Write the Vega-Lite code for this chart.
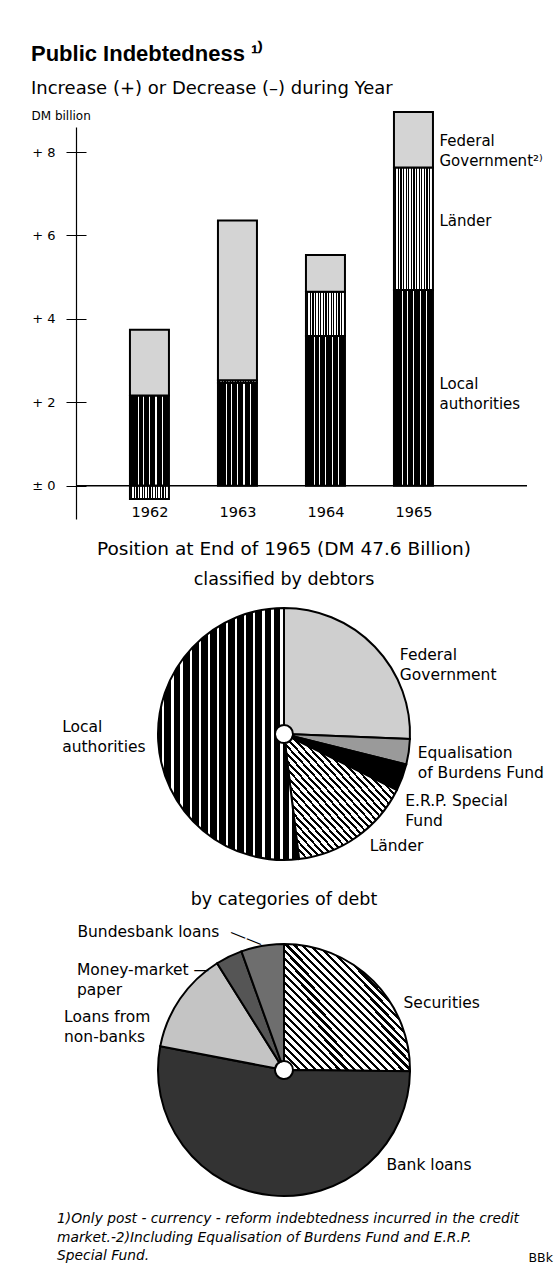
{
  "$schema": "https://vega.github.io/schema/vega-lite/v6.json",
  "background": "white",
  "padding": {"left": 31, "top": 43, "right": 2, "bottom": 2},
  "config": {
    "font": "DejaVu Sans",
    "view": {"stroke": null},
    "title": {"color": "black", "subtitleColor": "black", "fontWeight": "normal", "subtitleFontWeight": "normal", "font": "DejaVu Sans", "subtitleFont": "DejaVu Sans"},
    "text": {"color": "black", "font": "DejaVu Sans"}
  },
  "spacing": 21,
  "title": {"text": "BBk", "orient": "bottom", "anchor": "end", "fontSize": 12.5, "offset": 0, "dy": -11, "dx": 9, "frame": "bounds"},
  "vconcat": [
    {
      "width": 451,
      "height": 392,
      "title": {"text": "Public Indebtedness ¹⁾", "subtitle": "Increase (+) or Decrease (–) during Year", "anchor": "start", "frame": "bounds", "font": "Liberation Sans", "fontWeight": "bold", "fontSize": 22, "subtitleFontSize": 18, "subtitlePadding": 14, "offset": 10},
      "data": {"values": [
        {"year": 1962, "cat": "Local authorities", "value": 2.16},
        {"year": 1962, "cat": "Länder", "value": -0.32},
        {"year": 1962, "cat": "Federal Government", "value": 1.58},
        {"year": 1963, "cat": "Local authorities", "value": 2.47},
        {"year": 1963, "cat": "Länder", "value": 0.06},
        {"year": 1963, "cat": "Federal Government", "value": 3.83},
        {"year": 1964, "cat": "Local authorities", "value": 3.59},
        {"year": 1964, "cat": "Länder", "value": 1.06},
        {"year": 1964, "cat": "Federal Government", "value": 0.88},
        {"year": 1965, "cat": "Local authorities", "value": 4.69, "label": "Local\nauthorities"},
        {"year": 1965, "cat": "Länder", "value": 2.94, "label": "Länder"},
        {"year": 1965, "cat": "Federal Government", "value": 1.33, "label": "Federal\nGovernment²⁾"}
      ]},
      "layer": [
        {
          "transform": [{"window": [{"op": "row_number", "as": "idx"}]}],
          "mark": {"type": "bar", "size": 39, "stroke": "black", "strokeWidth": 2},
          "encoding": {
            "x": {"field": "year", "type": "quantitative",
              "scale": {"domain": [1961.2222, 1966.2333], "nice": false, "zero": false},
              "axis": {"values": [1962, 1963, 1964, 1965], "format": "d", "domain": false, "ticks": false, "tickSize": 0, "grid": false, "labelPadding": 0, "offset": -14, "labelFontSize": 14.5, "labelColor": "black", "labelFlush": false, "title": null}},
            "y": {"field": "value", "type": "quantitative", "stack": "zero",
              "scale": {"domain": [-0.8, 8.6], "nice": false, "zero": false},
              "axis": {"values": [0, 2, 4, 6, 8], "labelExpr": "datum.value === 0 ? '± 0' : '+ ' + datum.value", "tickSize": 10, "tickColor": "black", "tickWidth": 1, "domainColor": "black", "domainWidth": 1.2, "labelPadding": 11, "labelFontSize": 13, "labelColor": "black", "labelFlush": false, "grid": true, "gridColor": "black", "gridDash": [10, 3000], "gridOpacity": 1, "gridWidth": 1, "title": "DM billion", "titleAngle": 0, "titleX": -45, "titleY": -12, "titleAlign": "left", "titleBaseline": "middle", "titleFontSize": 12, "titleFontWeight": "normal", "titleColor": "black"}},
            "detail": {"field": "cat"},
            "order": {"field": "idx", "type": "quantitative"},
            "fill": {
              "condition": [
                {"test": "datum.cat === 'Local authorities'", "value": {"gradient": "linear", "x1": 0, "y1": 0, "x2": 1, "y2": 0, "stops": [
                  {"offset": 0, "color": "#000"},
                  {"offset": 0.195, "color": "#000"}, {"offset": 0.195, "color": "#fff"}, {"offset": 0.23, "color": "#fff"}, {"offset": 0.23, "color": "#000"},
                  {"offset": 0.325, "color": "#000"}, {"offset": 0.325, "color": "#fff"}, {"offset": 0.36, "color": "#fff"}, {"offset": 0.36, "color": "#000"},
                  {"offset": 0.485, "color": "#000"}, {"offset": 0.485, "color": "#fff"}, {"offset": 0.52, "color": "#fff"}, {"offset": 0.52, "color": "#000"},
                  {"offset": 0.655, "color": "#000"}, {"offset": 0.655, "color": "#fff"}, {"offset": 0.69, "color": "#fff"}, {"offset": 0.69, "color": "#000"},
                  {"offset": 0.815, "color": "#000"}, {"offset": 0.815, "color": "#fff"}, {"offset": 0.85, "color": "#fff"}, {"offset": 0.85, "color": "#000"},
                  {"offset": 1, "color": "#000"}
                ]}},
                {"test": "datum.cat === 'Länder'", "value": {"gradient": "linear", "x1": 0, "y1": 0, "x2": 1, "y2": 0, "stops": [
                  {"offset": 0, "color": "#fff"},
                  {"offset": 0.033, "color": "#fff"}, {"offset": 0.033, "color": "#000"}, {"offset": 0.061, "color": "#000"}, {"offset": 0.061, "color": "#fff"},
                  {"offset": 0.1, "color": "#fff"}, {"offset": 0.1, "color": "#000"}, {"offset": 0.128, "color": "#000"}, {"offset": 0.128, "color": "#fff"},
                  {"offset": 0.167, "color": "#fff"}, {"offset": 0.167, "color": "#000"}, {"offset": 0.195, "color": "#000"}, {"offset": 0.195, "color": "#fff"},
                  {"offset": 0.233, "color": "#fff"}, {"offset": 0.233, "color": "#000"}, {"offset": 0.261, "color": "#000"}, {"offset": 0.261, "color": "#fff"},
                  {"offset": 0.3, "color": "#fff"}, {"offset": 0.3, "color": "#000"}, {"offset": 0.328, "color": "#000"}, {"offset": 0.328, "color": "#fff"},
                  {"offset": 0.367, "color": "#fff"}, {"offset": 0.367, "color": "#000"}, {"offset": 0.395, "color": "#000"}, {"offset": 0.395, "color": "#fff"},
                  {"offset": 0.433, "color": "#fff"}, {"offset": 0.433, "color": "#000"}, {"offset": 0.461, "color": "#000"}, {"offset": 0.461, "color": "#fff"},
                  {"offset": 0.5, "color": "#fff"}, {"offset": 0.5, "color": "#000"}, {"offset": 0.528, "color": "#000"}, {"offset": 0.528, "color": "#fff"},
                  {"offset": 0.567, "color": "#fff"}, {"offset": 0.567, "color": "#000"}, {"offset": 0.595, "color": "#000"}, {"offset": 0.595, "color": "#fff"},
                  {"offset": 0.633, "color": "#fff"}, {"offset": 0.633, "color": "#000"}, {"offset": 0.661, "color": "#000"}, {"offset": 0.661, "color": "#fff"},
                  {"offset": 0.7, "color": "#fff"}, {"offset": 0.7, "color": "#000"}, {"offset": 0.728, "color": "#000"}, {"offset": 0.728, "color": "#fff"},
                  {"offset": 0.767, "color": "#fff"}, {"offset": 0.767, "color": "#000"}, {"offset": 0.795, "color": "#000"}, {"offset": 0.795, "color": "#fff"},
                  {"offset": 0.833, "color": "#fff"}, {"offset": 0.833, "color": "#000"}, {"offset": 0.861, "color": "#000"}, {"offset": 0.861, "color": "#fff"},
                  {"offset": 0.9, "color": "#fff"}, {"offset": 0.9, "color": "#000"}, {"offset": 0.928, "color": "#000"}, {"offset": 0.928, "color": "#fff"},
                  {"offset": 0.967, "color": "#fff"}, {"offset": 0.967, "color": "#000"}, {"offset": 0.995, "color": "#000"}, {"offset": 0.995, "color": "#fff"},
                  {"offset": 1, "color": "#fff"}
                ]}}
              ],
              "value": "#d4d4d4"
            }
          }
        },
        {
          "data": {"values": [{}]},
          "mark": {"type": "rule", "stroke": "black", "strokeWidth": 1.5},
          "encoding": {"y": {"datum": 0, "type": "quantitative"}}
        },
        {
          "transform": [{"window": [{"op": "row_number", "as": "idx"}]}, {"filter": "datum.year === 1965"}],
          "mark": {"type": "text", "align": "left", "baseline": "middle", "dx": 26, "fontSize": 15, "lineBreak": "\n", "lineHeight": 20, "color": "black",
            "dy": {"expr": "datum.cat === 'Federal Government' ? 1 : datum.cat === 'Länder' ? -8 : -4"}},
          "encoding": {
            "x": {"field": "year", "type": "quantitative"},
            "y": {"field": "value", "type": "quantitative", "stack": "zero", "bandPosition": 0.5},
            "detail": {"field": "cat"},
            "order": {"field": "idx", "type": "quantitative"},
            "text": {"field": "label"}
          }
        }
      ]
    },
    {
      "width": 416,
      "height": 270,
      "title": {"text": "Position at End of 1965 (DM 47.6 Billion)", "subtitle": "classified by debtors", "anchor": "middle", "frame": "group", "fontSize": 18.5, "subtitleFontSize": 17.5, "subtitlePadding": 12, "offset": 11},
      "data": {"values": [
        {"cat": "Federal Government", "value": 12.2, "label": "Federal\nGovernment"},
        {"cat": "Equalisation of Burdens Fund", "value": 1.55, "label": "Equalisation\nof Burdens Fund"},
        {"cat": "E.R.P. Special Fund", "value": 1.64, "label": "E.R.P.  Special\nFund"},
        {"cat": "Länder", "value": 7.51, "label": "Länder"},
        {"cat": "Local authorities", "value": 24.7, "label": "Local\nauthorities"}
      ]},
      "transform": [{"window": [{"op": "row_number", "as": "idx"}]}],
      "layer": [
        {
          "mark": {"type": "arc", "outerRadius": 126, "innerRadius": 9, "stroke": "black", "strokeWidth": 2},
          "encoding": {
            "theta": {"field": "value", "type": "quantitative", "stack": true},
            "order": {"field": "idx", "type": "quantitative"},
            "detail": {"field": "cat"},
            "fill": {
              "condition": [
                {"test": "datum.cat === 'Local authorities'", "value": {"gradient": "linear", "x1": 0, "y1": 0, "x2": 1, "y2": 0, "stops": [
                  {"offset": 0, "color": "#000"},
                  {"offset": 0.03, "color": "#000"}, {"offset": 0.03, "color": "#fff"}, {"offset": 0.046, "color": "#fff"}, {"offset": 0.046, "color": "#000"},
                  {"offset": 0.095, "color": "#000"}, {"offset": 0.095, "color": "#fff"}, {"offset": 0.111, "color": "#fff"}, {"offset": 0.111, "color": "#000"},
                  {"offset": 0.159, "color": "#000"}, {"offset": 0.159, "color": "#fff"}, {"offset": 0.175, "color": "#fff"}, {"offset": 0.175, "color": "#000"},
                  {"offset": 0.224, "color": "#000"}, {"offset": 0.224, "color": "#fff"}, {"offset": 0.24, "color": "#fff"}, {"offset": 0.24, "color": "#000"},
                  {"offset": 0.288, "color": "#000"}, {"offset": 0.288, "color": "#fff"}, {"offset": 0.304, "color": "#fff"}, {"offset": 0.304, "color": "#000"},
                  {"offset": 0.353, "color": "#000"}, {"offset": 0.353, "color": "#fff"}, {"offset": 0.369, "color": "#fff"}, {"offset": 0.369, "color": "#000"},
                  {"offset": 0.417, "color": "#000"}, {"offset": 0.417, "color": "#fff"}, {"offset": 0.433, "color": "#fff"}, {"offset": 0.433, "color": "#000"},
                  {"offset": 0.482, "color": "#000"}, {"offset": 0.482, "color": "#fff"}, {"offset": 0.498, "color": "#fff"}, {"offset": 0.498, "color": "#000"},
                  {"offset": 0.546, "color": "#000"}, {"offset": 0.546, "color": "#fff"}, {"offset": 0.562, "color": "#fff"}, {"offset": 0.562, "color": "#000"},
                  {"offset": 0.611, "color": "#000"}, {"offset": 0.611, "color": "#fff"}, {"offset": 0.627, "color": "#fff"}, {"offset": 0.627, "color": "#000"},
                  {"offset": 0.675, "color": "#000"}, {"offset": 0.675, "color": "#fff"}, {"offset": 0.691, "color": "#fff"}, {"offset": 0.691, "color": "#000"},
                  {"offset": 0.74, "color": "#000"}, {"offset": 0.74, "color": "#fff"}, {"offset": 0.756, "color": "#fff"}, {"offset": 0.756, "color": "#000"},
                  {"offset": 0.804, "color": "#000"}, {"offset": 0.804, "color": "#fff"}, {"offset": 0.82, "color": "#fff"}, {"offset": 0.82, "color": "#000"},
                  {"offset": 0.869, "color": "#000"}, {"offset": 0.869, "color": "#fff"}, {"offset": 0.885, "color": "#fff"}, {"offset": 0.885, "color": "#000"},
                  {"offset": 0.933, "color": "#000"}, {"offset": 0.933, "color": "#fff"}, {"offset": 0.949, "color": "#fff"}, {"offset": 0.949, "color": "#000"},
                  {"offset": 1, "color": "#000"}
                ]}},
                {"test": "datum.cat === 'Länder'", "value": {"gradient": "linear", "x1": 0, "y1": 1, "x2": 1, "y2": 0, "stops": [
                  {"offset": 0, "color": "#000"}, {"offset": 0.0125, "color": "#000"}, {"offset": 0.0125, "color": "#fff"}, {"offset": 0.03125, "color": "#fff"},
                  {"offset": 0.03125, "color": "#000"}, {"offset": 0.04375, "color": "#000"}, {"offset": 0.04375, "color": "#fff"}, {"offset": 0.0625, "color": "#fff"},
                  {"offset": 0.0625, "color": "#000"}, {"offset": 0.075, "color": "#000"}, {"offset": 0.075, "color": "#fff"}, {"offset": 0.09375, "color": "#fff"},
                  {"offset": 0.09375, "color": "#000"}, {"offset": 0.10625, "color": "#000"}, {"offset": 0.10625, "color": "#fff"}, {"offset": 0.125, "color": "#fff"},
                  {"offset": 0.125, "color": "#000"}, {"offset": 0.1375, "color": "#000"}, {"offset": 0.1375, "color": "#fff"}, {"offset": 0.15625, "color": "#fff"},
                  {"offset": 0.15625, "color": "#000"}, {"offset": 0.16875, "color": "#000"}, {"offset": 0.16875, "color": "#fff"}, {"offset": 0.1875, "color": "#fff"},
                  {"offset": 0.1875, "color": "#000"}, {"offset": 0.2, "color": "#000"}, {"offset": 0.2, "color": "#fff"}, {"offset": 0.21875, "color": "#fff"},
                  {"offset": 0.21875, "color": "#000"}, {"offset": 0.23125, "color": "#000"}, {"offset": 0.23125, "color": "#fff"}, {"offset": 0.25, "color": "#fff"},
                  {"offset": 0.25, "color": "#000"}, {"offset": 0.2625, "color": "#000"}, {"offset": 0.2625, "color": "#fff"}, {"offset": 0.28125, "color": "#fff"},
                  {"offset": 0.28125, "color": "#000"}, {"offset": 0.29375, "color": "#000"}, {"offset": 0.29375, "color": "#fff"}, {"offset": 0.3125, "color": "#fff"},
                  {"offset": 0.3125, "color": "#000"}, {"offset": 0.325, "color": "#000"}, {"offset": 0.325, "color": "#fff"}, {"offset": 0.34375, "color": "#fff"},
                  {"offset": 0.34375, "color": "#000"}, {"offset": 0.35625, "color": "#000"}, {"offset": 0.35625, "color": "#fff"}, {"offset": 0.375, "color": "#fff"},
                  {"offset": 0.375, "color": "#000"}, {"offset": 0.3875, "color": "#000"}, {"offset": 0.3875, "color": "#fff"}, {"offset": 0.40625, "color": "#fff"},
                  {"offset": 0.40625, "color": "#000"}, {"offset": 0.41875, "color": "#000"}, {"offset": 0.41875, "color": "#fff"}, {"offset": 0.4375, "color": "#fff"},
                  {"offset": 0.4375, "color": "#000"}, {"offset": 0.45, "color": "#000"}, {"offset": 0.45, "color": "#fff"}, {"offset": 0.46875, "color": "#fff"},
                  {"offset": 0.46875, "color": "#000"}, {"offset": 0.48125, "color": "#000"}, {"offset": 0.48125, "color": "#fff"}, {"offset": 0.5, "color": "#fff"},
                  {"offset": 0.5, "color": "#000"}, {"offset": 0.5125, "color": "#000"}, {"offset": 0.5125, "color": "#fff"}, {"offset": 0.53125, "color": "#fff"},
                  {"offset": 0.53125, "color": "#000"}, {"offset": 0.54375, "color": "#000"}, {"offset": 0.54375, "color": "#fff"}, {"offset": 0.5625, "color": "#fff"},
                  {"offset": 0.5625, "color": "#000"}, {"offset": 0.575, "color": "#000"}, {"offset": 0.575, "color": "#fff"}, {"offset": 0.59375, "color": "#fff"},
                  {"offset": 0.59375, "color": "#000"}, {"offset": 0.60625, "color": "#000"}, {"offset": 0.60625, "color": "#fff"}, {"offset": 0.625, "color": "#fff"},
                  {"offset": 0.625, "color": "#000"}, {"offset": 0.6375, "color": "#000"}, {"offset": 0.6375, "color": "#fff"}, {"offset": 0.65625, "color": "#fff"},
                  {"offset": 0.65625, "color": "#000"}, {"offset": 0.66875, "color": "#000"}, {"offset": 0.66875, "color": "#fff"}, {"offset": 0.6875, "color": "#fff"},
                  {"offset": 0.6875, "color": "#000"}, {"offset": 0.7, "color": "#000"}, {"offset": 0.7, "color": "#fff"}, {"offset": 0.71875, "color": "#fff"},
                  {"offset": 0.71875, "color": "#000"}, {"offset": 0.73125, "color": "#000"}, {"offset": 0.73125, "color": "#fff"}, {"offset": 0.75, "color": "#fff"},
                  {"offset": 0.75, "color": "#000"}, {"offset": 0.7625, "color": "#000"}, {"offset": 0.7625, "color": "#fff"}, {"offset": 0.78125, "color": "#fff"},
                  {"offset": 0.78125, "color": "#000"}, {"offset": 0.79375, "color": "#000"}, {"offset": 0.79375, "color": "#fff"}, {"offset": 0.8125, "color": "#fff"},
                  {"offset": 0.8125, "color": "#000"}, {"offset": 0.825, "color": "#000"}, {"offset": 0.825, "color": "#fff"}, {"offset": 0.84375, "color": "#fff"},
                  {"offset": 0.84375, "color": "#000"}, {"offset": 0.85625, "color": "#000"}, {"offset": 0.85625, "color": "#fff"}, {"offset": 0.875, "color": "#fff"},
                  {"offset": 0.875, "color": "#000"}, {"offset": 0.8875, "color": "#000"}, {"offset": 0.8875, "color": "#fff"}, {"offset": 0.90625, "color": "#fff"},
                  {"offset": 0.90625, "color": "#000"}, {"offset": 0.91875, "color": "#000"}, {"offset": 0.91875, "color": "#fff"}, {"offset": 0.9375, "color": "#fff"},
                  {"offset": 0.9375, "color": "#000"}, {"offset": 0.95, "color": "#000"}, {"offset": 0.95, "color": "#fff"}, {"offset": 0.96875, "color": "#fff"},
                  {"offset": 0.96875, "color": "#000"}, {"offset": 0.98125, "color": "#000"}, {"offset": 0.98125, "color": "#fff"}, {"offset": 1, "color": "#fff"}
                ]}},
                {"test": "datum.cat === 'E.R.P. Special Fund'", "value": "#000"},
                {"test": "datum.cat === 'Equalisation of Burdens Fund'", "value": "#9a9a9a"}
              ],
              "value": "#cfcfcf"
            }
          }
        },
        {
          "mark": {"type": "text", "radius": 126, "align": "left", "baseline": "middle", "fontSize": 15.5, "lineBreak": "\n", "lineHeight": 20, "color": "black",
            "dx": {"expr": "datum.cat === 'Federal Government' ? 25 : datum.cat === 'Equalisation of Burdens Fund' ? 9 : datum.cat === 'E.R.P. Special Fund' ? 3 : datum.cat === 'Länder' ? 13 : -96"},
            "dy": {"expr": "datum.cat === 'Federal Government' ? 8 : datum.cat === 'Equalisation of Burdens Fund' ? 1 : datum.cat === 'E.R.P. Special Fund' ? 24 : datum.cat === 'Länder' ? 9 : -14"}},
          "encoding": {
            "theta": {"field": "value", "type": "quantitative", "stack": true},
            "order": {"field": "idx", "type": "quantitative"},
            "detail": {"field": "cat"},
            "text": {"field": "label"}
          }
        }
      ]
    },
    {
      "title": {"text": ["1)Only post - currency - reform indebtedness incurred in the credit", "market.-2)Including Equalisation of Burdens Fund and E.R.P.", "Special Fund."], "orient": "bottom", "anchor": "start", "frame": "bounds", "fontStyle": "italic", "fontSize": 13.8, "lineHeight": 18.5, "offset": 12, "dx": -7},
      "vconcat": [
        {
          "width": 416,
          "height": 252,
          "title": {"text": "by categories of debt", "anchor": "middle", "frame": "group", "fontSize": 17.5, "offset": 15},
          "data": {"values": [
            {"cat": "Securities", "value": 11.97, "label": "Securities"},
            {"cat": "Bank loans", "value": 25.17, "label": "Bank  loans"},
            {"cat": "Loans from non-banks", "value": 6.22, "label": "Loans  from\nnon-banks"},
            {"cat": "Money-market paper", "value": 1.63, "label": "Money-market —\npaper"},
            {"cat": "Bundesbank loans", "value": 2.61, "label": "Bundesbank  loans"}
          ]},
          "transform": [{"window": [{"op": "row_number", "as": "idx"}]}],
          "layer": [
            {
              "mark": {"type": "arc", "outerRadius": 126, "innerRadius": 9, "stroke": "black", "strokeWidth": 2},
              "encoding": {
                "theta": {"field": "value", "type": "quantitative", "stack": true},
                "order": {"field": "idx", "type": "quantitative"},
                "detail": {"field": "cat"},
                "fill": {
                  "condition": [
                    {"test": "datum.cat === 'Securities'", "value": {"gradient": "linear", "x1": 0, "y1": 1, "x2": 1, "y2": 0, "stops": [
                      {"offset": 0, "color": "#000"}, {"offset": 0.0125, "color": "#000"}, {"offset": 0.0125, "color": "#fff"}, {"offset": 0.03125, "color": "#fff"},
                      {"offset": 0.03125, "color": "#000"}, {"offset": 0.04375, "color": "#000"}, {"offset": 0.04375, "color": "#fff"}, {"offset": 0.0625, "color": "#fff"},
                      {"offset": 0.0625, "color": "#000"}, {"offset": 0.075, "color": "#000"}, {"offset": 0.075, "color": "#fff"}, {"offset": 0.09375, "color": "#fff"},
                      {"offset": 0.09375, "color": "#000"}, {"offset": 0.10625, "color": "#000"}, {"offset": 0.10625, "color": "#fff"}, {"offset": 0.125, "color": "#fff"},
                      {"offset": 0.125, "color": "#000"}, {"offset": 0.1375, "color": "#000"}, {"offset": 0.1375, "color": "#fff"}, {"offset": 0.15625, "color": "#fff"},
                      {"offset": 0.15625, "color": "#000"}, {"offset": 0.16875, "color": "#000"}, {"offset": 0.16875, "color": "#fff"}, {"offset": 0.1875, "color": "#fff"},
                      {"offset": 0.1875, "color": "#000"}, {"offset": 0.2, "color": "#000"}, {"offset": 0.2, "color": "#fff"}, {"offset": 0.21875, "color": "#fff"},
                      {"offset": 0.21875, "color": "#000"}, {"offset": 0.23125, "color": "#000"}, {"offset": 0.23125, "color": "#fff"}, {"offset": 0.25, "color": "#fff"},
                      {"offset": 0.25, "color": "#000"}, {"offset": 0.2625, "color": "#000"}, {"offset": 0.2625, "color": "#fff"}, {"offset": 0.28125, "color": "#fff"},
                      {"offset": 0.28125, "color": "#000"}, {"offset": 0.29375, "color": "#000"}, {"offset": 0.29375, "color": "#fff"}, {"offset": 0.3125, "color": "#fff"},
                      {"offset": 0.3125, "color": "#000"}, {"offset": 0.325, "color": "#000"}, {"offset": 0.325, "color": "#fff"}, {"offset": 0.34375, "color": "#fff"},
                      {"offset": 0.34375, "color": "#000"}, {"offset": 0.35625, "color": "#000"}, {"offset": 0.35625, "color": "#fff"}, {"offset": 0.375, "color": "#fff"},
                      {"offset": 0.375, "color": "#000"}, {"offset": 0.3875, "color": "#000"}, {"offset": 0.3875, "color": "#fff"}, {"offset": 0.40625, "color": "#fff"},
                      {"offset": 0.40625, "color": "#000"}, {"offset": 0.41875, "color": "#000"}, {"offset": 0.41875, "color": "#fff"}, {"offset": 0.4375, "color": "#fff"},
                      {"offset": 0.4375, "color": "#000"}, {"offset": 0.45, "color": "#000"}, {"offset": 0.45, "color": "#fff"}, {"offset": 0.46875, "color": "#fff"},
                      {"offset": 0.46875, "color": "#000"}, {"offset": 0.48125, "color": "#000"}, {"offset": 0.48125, "color": "#fff"}, {"offset": 0.5, "color": "#fff"},
                      {"offset": 0.5, "color": "#000"}, {"offset": 0.5125, "color": "#000"}, {"offset": 0.5125, "color": "#fff"}, {"offset": 0.53125, "color": "#fff"},
                      {"offset": 0.53125, "color": "#000"}, {"offset": 0.54375, "color": "#000"}, {"offset": 0.54375, "color": "#fff"}, {"offset": 0.5625, "color": "#fff"},
                      {"offset": 0.5625, "color": "#000"}, {"offset": 0.575, "color": "#000"}, {"offset": 0.575, "color": "#fff"}, {"offset": 0.59375, "color": "#fff"},
                      {"offset": 0.59375, "color": "#000"}, {"offset": 0.60625, "color": "#000"}, {"offset": 0.60625, "color": "#fff"}, {"offset": 0.625, "color": "#fff"},
                      {"offset": 0.625, "color": "#000"}, {"offset": 0.6375, "color": "#000"}, {"offset": 0.6375, "color": "#fff"}, {"offset": 0.65625, "color": "#fff"},
                      {"offset": 0.65625, "color": "#000"}, {"offset": 0.66875, "color": "#000"}, {"offset": 0.66875, "color": "#fff"}, {"offset": 0.6875, "color": "#fff"},
                      {"offset": 0.6875, "color": "#000"}, {"offset": 0.7, "color": "#000"}, {"offset": 0.7, "color": "#fff"}, {"offset": 0.71875, "color": "#fff"},
                      {"offset": 0.71875, "color": "#000"}, {"offset": 0.73125, "color": "#000"}, {"offset": 0.73125, "color": "#fff"}, {"offset": 0.75, "color": "#fff"},
                      {"offset": 0.75, "color": "#000"}, {"offset": 0.7625, "color": "#000"}, {"offset": 0.7625, "color": "#fff"}, {"offset": 0.78125, "color": "#fff"},
                      {"offset": 0.78125, "color": "#000"}, {"offset": 0.79375, "color": "#000"}, {"offset": 0.79375, "color": "#fff"}, {"offset": 0.8125, "color": "#fff"},
                      {"offset": 0.8125, "color": "#000"}, {"offset": 0.825, "color": "#000"}, {"offset": 0.825, "color": "#fff"}, {"offset": 0.84375, "color": "#fff"},
                      {"offset": 0.84375, "color": "#000"}, {"offset": 0.85625, "color": "#000"}, {"offset": 0.85625, "color": "#fff"}, {"offset": 0.875, "color": "#fff"},
                      {"offset": 0.875, "color": "#000"}, {"offset": 0.8875, "color": "#000"}, {"offset": 0.8875, "color": "#fff"}, {"offset": 0.90625, "color": "#fff"},
                      {"offset": 0.90625, "color": "#000"}, {"offset": 0.91875, "color": "#000"}, {"offset": 0.91875, "color": "#fff"}, {"offset": 0.9375, "color": "#fff"},
                      {"offset": 0.9375, "color": "#000"}, {"offset": 0.95, "color": "#000"}, {"offset": 0.95, "color": "#fff"}, {"offset": 0.96875, "color": "#fff"},
                      {"offset": 0.96875, "color": "#000"}, {"offset": 0.98125, "color": "#000"}, {"offset": 0.98125, "color": "#fff"}, {"offset": 1, "color": "#fff"}
                    ]}},
                    {"test": "datum.cat === 'Bank loans'", "value": "#333333"},
                    {"test": "datum.cat === 'Loans from non-banks'", "value": "#c4c4c4"},
                    {"test": "datum.cat === 'Money-market paper'", "value": "#555555"}
                  ],
                  "value": "#6e6e6e"
                }
              }
            },
            {
              "mark": {"type": "text", "radius": 126, "align": "left", "baseline": "middle", "fontSize": 15.5, "lineBreak": "\n", "lineHeight": 20, "color": "black",
                "dx": {"expr": "datum.cat === 'Securities' ? 30 : datum.cat === 'Bank loans' ? 115 : datum.cat === 'Loans from non-banks' ? -116 : datum.cat === 'Money-market paper' ? -152 : -185"},
                "dy": {"expr": "datum.cat === 'Securities' ? 22 : datum.cat === 'Bank loans' ? -30 : datum.cat === 'Loans from non-banks' ? 18 : datum.cat === 'Money-market paper' ? 13 : -14"}},
              "encoding": {
                "theta": {"field": "value", "type": "quantitative", "stack": true},
                "order": {"field": "idx", "type": "quantitative"},
                "detail": {"field": "cat"},
                "text": {"field": "label"}
              }
            },
            {
              "mark": {"type": "text", "radius": 126, "align": "center", "baseline": "middle", "fontSize": 17, "angle": 22, "dx": -18, "dy": -1, "color": "black"},
              "encoding": {
                "theta": {"field": "value", "type": "quantitative", "stack": true},
                "order": {"field": "idx", "type": "quantitative"},
                "detail": {"field": "cat"},
                "text": {"condition": {"test": "datum.cat === 'Bundesbank loans'", "value": "——"}, "value": ""}
              }
            }
          ]
        }
      ]
    }
  ]
}
